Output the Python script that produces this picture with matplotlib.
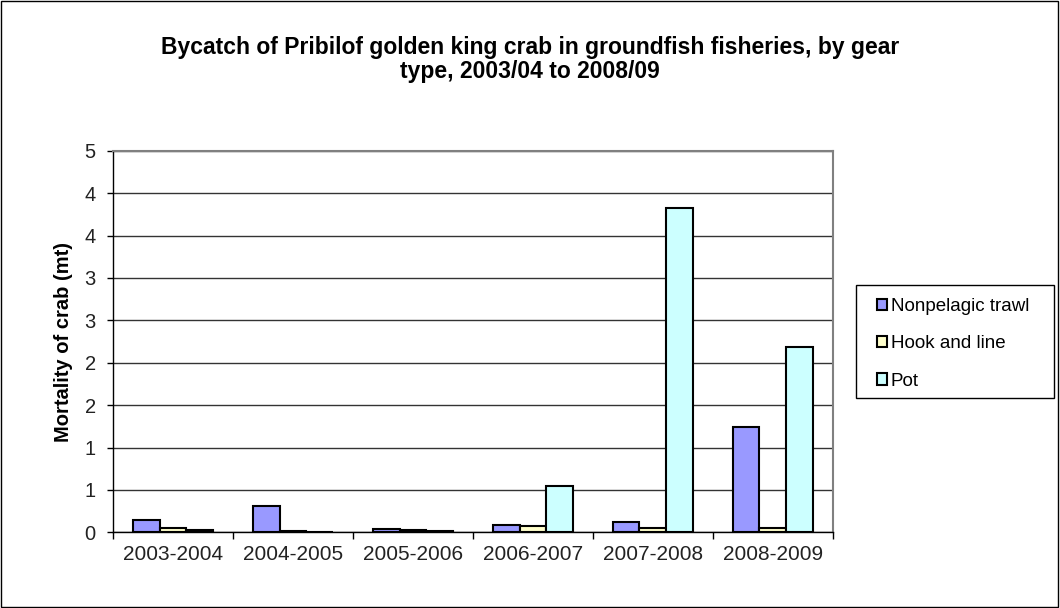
# Bycatch of Pribilof golden king crab, grouped bar chart in Excel style
import matplotlib.pyplot as plt
import numpy as np
from matplotlib.patches import Rectangle

plt.rcParams['font.family'] = ['Liberation Sans', 'DejaVu Sans']

# Data
seasons = ['2003-2004', '2004-2005', '2005-2006', '2006-2007', '2007-2008', '2008-2009']
nonpelagic_trawl = [0.145, 0.31, 0.04, 0.086, 0.12, 1.245]
hook_and_line = [0.054, 0.02, 0.03, 0.07, 0.05, 0.047]
pot = [0.027, 0.0, 0.015, 0.55, 3.82, 2.185]
series_names = ['Nonpelagic trawl', 'Hook and line', 'Pot']
ytick_values = [0, 0.5, 1, 1.5, 2, 2.5, 3, 3.5, 4, 4.5]
ytick_labels = ['0', '1', '1', '2', '2', '3', '3', '4', '4', '5']

colors = ['#9999FF', '#FFFFCC', '#CCFFFF']

fig = plt.figure(figsize=(10.6, 6.08), dpi=100)
ax = fig.add_axes([0.1066, 0.1245, 0.679, 0.6275])

x = np.arange(len(seasons))
width = 0.222
for i, (vals, name) in enumerate(zip([nonpelagic_trawl, hook_and_line, pot], series_names)):
    ax.bar(x + (i - 1) * width, vals, width, color=colors[i], edgecolor='black',
           linewidth=1.5, label=name, zorder=3)

# Axes limits and gridlines
ax.set_xlim(-0.5, len(seasons) - 0.5)
ax.set_ylim(0, 4.5)
ax.set_yticks(ytick_values)
ax.set_yticklabels(ytick_labels, fontsize=14.5, color='#222222')
ax.yaxis.grid(True, color='#333333', linewidth=1.0, zorder=0)

ax.set_xticks(x)
ax.set_xticklabels(seasons, fontsize=15, color='#222222')
ax.tick_params(axis='x', length=0, pad=9)
ax.set_xticks(np.arange(-0.5, len(seasons)), minor=True)
ax.tick_params(axis='x', which='minor', length=5, width=1, color='black')
ax.tick_params(axis='y', length=4.5, width=1, color='black', direction='out', pad=8)

for side in ['top', 'right']:
    ax.spines[side].set_color('#808080')
    ax.spines[side].set_linewidth(1.5)
for side in ['left', 'bottom']:
    ax.spines[side].set_color('black')
    ax.spines[side].set_linewidth(1.0)

ax.set_ylabel('Mortality of crab (mt)', fontsize=14.5, fontweight='bold', labelpad=8)
fig.suptitle('Bycatch of Pribilof golden king crab in groundfish fisheries, by gear\ntype, 2003/04 to 2008/09',
             fontsize=16.5, fontweight='bold', x=0.5, y=0.94, linespacing=1.05)

# Legend: contents without frame, box drawn separately (Excel pads more sideways)
leg = ax.legend(loc='upper left', bbox_to_anchor=(1.043, 0.648), fontsize=13.5,
                frameon=False, handlelength=0.55, handleheight=0.55, handletextpad=0.2,
                labelspacing=1.08, borderpad=0.7, borderaxespad=0)
for h in leg.legend_handles:
    h.set_linewidth(1.5)
ax.add_patch(Rectangle((1.032, 0.352), 0.275, 0.296, transform=ax.transAxes,
                       fill=False, edgecolor='black', linewidth=1.0, clip_on=False))

# Outer border around the whole chart
fig.patches.append(Rectangle((0.001, 0.002), 0.997, 0.996, transform=fig.transFigure,
                             fill=False, edgecolor='black', linewidth=1.0))

fig.savefig('out.png', dpi=100)
